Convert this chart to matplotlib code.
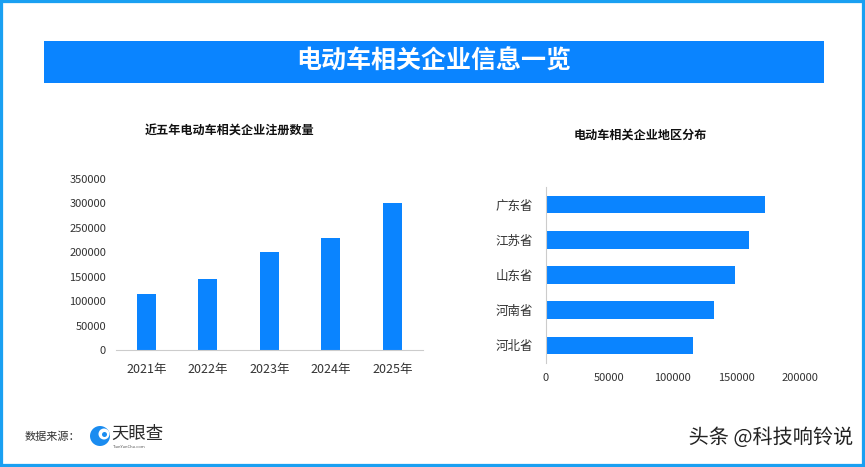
import matplotlib
matplotlib.use("Agg")
import matplotlib.pyplot as plt
from matplotlib.patches import Rectangle, Ellipse
import matplotlib.patheffects as pe

plt.rcParams['font.family'] = ['Noto Sans CJK SC', 'DejaVu Sans']

title = "电动车相关企业信息一览"
years = ["2021年", "2022年", "2023年", "2024年", "2025年"]
registrations = [115000, 145000, 200000, 230000, 301000]
left_title = "近五年电动车相关企业注册数量"

provinces = ["广东省", "江苏省", "山东省", "河南省", "河北省"]
province_counts = [172500, 159500, 149000, 132500, 115500]
right_title = "电动车相关企业地区分布"

BLUE = "#0a84ff"
TXT = "#333333"

W, H = 865, 467
fig = plt.figure(figsize=(W / 100, H / 100), dpi=100)
fig.patch.set_facecolor("white")

def fx(x): return x / W
def fy(y): return 1 - y / H

# border
fig.patches.append(Rectangle((0, 0), 1, 1, transform=fig.transFigure, fill=False,
                             edgecolor="#1aa0f2", linewidth=4.5))
# banner
fig.patches.append(Rectangle((fx(44), fy(83)), fx(824) - fx(44), fy(41) - fy(83),
                             transform=fig.transFigure, facecolor=BLUE, edgecolor="none"))
fig.text(fx(434), fy(62), title, color="white", fontsize=18, fontweight="bold",
         ha="center", va="center")

# left chart
ax1 = fig.add_axes([fx(115.7), fy(350), fx(423) - fx(115.7), fy(179) - fy(350)])
ax1.bar(range(len(years)), registrations, width=0.31, color=BLUE)
ax1.set_xlim(-0.5, len(years) - 0.5)
ax1.set_ylim(0, 350000)
ax1.set_yticks(range(0, 350001, 50000))
ax1.set_xticks(range(len(years)))
ax1.set_xticklabels(years)
ax1.tick_params(axis="y", length=0, pad=7, labelsize=8, labelcolor=TXT)
ax1.tick_params(axis="x", length=0, pad=9, labelsize=9, labelcolor=TXT)
for s in ["top", "right", "left"]:
    ax1.spines[s].set_visible(False)
ax1.spines["bottom"].set_color("#cccccc")
fig.text(fx(230), fy(131), left_title, fontsize=8.7, fontweight="bold",
         color="#111111", ha="center", va="center")

# right chart
ax2 = fig.add_axes([fx(545.7), fy(363), fx(800) - fx(545.7), fy(187) - fy(363)])
ax2.barh(range(len(provinces)), province_counts, height=0.5, color=BLUE)
ax2.set_ylim(len(provinces) - 0.5, -0.5)
ax2.set_xlim(0, 200000)
ax2.set_xticks(range(0, 200001, 50000))
ax2.set_yticks(range(len(provinces)))
ax2.set_yticklabels(provinces)
ax2.tick_params(axis="y", length=0, pad=9, labelsize=9, labelcolor=TXT)
ax2.tick_params(axis="x", length=0, pad=7, labelsize=8, labelcolor=TXT)
for s in ["top", "right", "bottom"]:
    ax2.spines[s].set_visible(False)
ax2.spines["left"].set_color("#cccccc")
fig.text(fx(640), fy(135), right_title, fontsize=8.7, fontweight="bold",
         color="#111111", ha="center", va="center")

# footer
fig.text(fx(25), fy(437), "数据来源：", fontsize=8, color=TXT, ha="left", va="center")
fig.patches.append(Ellipse((fx(100), fy(436)), 20 / W, 20 / H, transform=fig.transFigure,
                           facecolor="#1a8cf0", edgecolor="none"))
fig.patches.append(Ellipse((fx(104), fy(434)), 11 / W, 11 / H, transform=fig.transFigure,
                           facecolor="white", edgecolor="none"))
fig.patches.append(Ellipse((fx(104.5), fy(434.5)), 5 / W, 5 / H, transform=fig.transFigure,
                           facecolor="#1a8cf0", edgecolor="none"))
fig.text(fx(111), fy(434), "天眼查", fontsize=12.5, fontweight="medium", color="#2a2a2a",
         ha="left", va="center")
fig.text(fx(113), fy(447), "TianYanCha.com", fontsize=3, color="#555555",
         ha="left", va="center")
fig.text(fx(853), fy(438), "头条 @科技响铃说", fontsize=14.5, color="#222222",
         ha="right", va="center",
         path_effects=[pe.withStroke(linewidth=2, foreground="white")])

fig.savefig("out.png", dpi=100)
